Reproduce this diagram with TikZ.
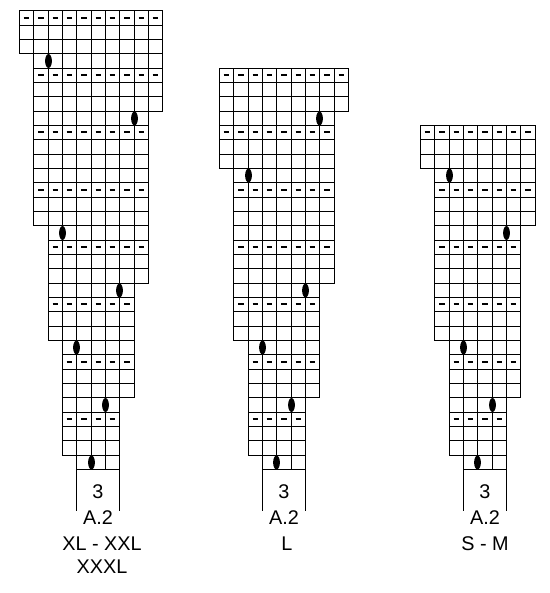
\documentclass[tikz,border=0pt]{standalone}
\usepackage{fontspec}
\setmainfont{Liberation Sans}
\usetikzlibrary{positioning}

\begin{document}
\begin{tikzpicture}[
    x=1bp, y=1bp,
    declare function={snap(\c)=round(14.33*\c); mid(\c)=(snap(\c)+snap(\c+1))/2; dashy(\c)=floor(mid(\c))+.5;},
    gridlines/.style={line width=1.7bp, line cap=rect},
    purl/.style={line width=2.6bp},
    legline/.style={line width=1.7bp},
    sizetext/.style={inner sep=0pt, align=center, font=\fontsize{19.9}{23}\selectfont}
]
\useasboundingbox (0,0) rectangle (550,593);

% Left chart: XL - XXL, XXXL
\begin{scope}[shift={(19.5,123.5)}]
% columns, each from its first row up to the top
\foreach \x/\lo in {0/29, 1/17, 2/9, 3/1, 4/0, 5/0, 6/0, 7/0, 8/5, 9/13, 10/25}
    \draw[gridlines] ({snap(\x)},{snap(\lo)}) -- ({snap(\x)},{snap(32)});
% rows
\foreach \a/\b/\lo/\hi in {4/7/0/1, 3/7/1/5, 3/8/5/9, 2/8/9/13, 2/9/13/17, 1/9/17/25, 1/10/25/29, 0/10/29/32} {
    \pgfmathtruncatemacro\last{\hi-1}
    \foreach \y in {\lo,...,\last}
        \draw[gridlines] ({snap(\a)},{snap(\y)}) -- ({snap(\b)},{snap(\y)});
}
\draw[gridlines] ({snap(0)},{snap(32)}) -- ({snap(10)},{snap(32)});
% purl rows
\foreach \r/\a/\e in {3/3/6, 7/3/7, 11/2/7, 15/2/8, 19/1/8, 23/1/8, 27/1/9, 31/0/9}
    \foreach \c in {\a,...,\e}
        \draw[purl] ({mid(\c)-2.9},{dashy(\r)}) -- ({mid(\c)+2.9},{dashy(\r)});
% yarn overs
\foreach \l/\r in {5/0, 6/4, 4/8, 7/12, 3/16, 8/24, 2/28}
    \fill ({snap(\l)},{mid(\r)}) ellipse [x radius=3.4, y radius=7];
\draw[legline] ({snap(4)},0) -- ({snap(4)},-42);
\draw[legline] ({snap(7)},0) -- ({snap(7)},-42);
\node[sizetext] (l-count) at ({(snap(4)+snap(7))/2},-22.6) {3};
\node[sizetext, below=11pt of l-count] (l-name) {A.2};
\node[sizetext, below=12pt of l-name, xshift=4pt] (l-size) {XL - XXL\\XXXL};
\end{scope}

% Middle chart: L
\begin{scope}[shift={(219.5,123.5)}]
\foreach \x/\lo in {0/21, 1/9, 2/1, 3/0, 4/0, 5/0, 6/0, 7/5, 8/13, 9/25}
    \draw[gridlines] ({snap(\x)},{snap(\lo)}) -- ({snap(\x)},{snap(28)});
\foreach \a/\b/\lo/\hi in {3/6/0/1, 2/6/1/5, 2/7/5/9, 1/7/9/13, 1/8/13/21, 0/8/21/25, 0/9/25/28} {
    \pgfmathtruncatemacro\last{\hi-1}
    \foreach \y in {\lo,...,\last}
        \draw[gridlines] ({snap(\a)},{snap(\y)}) -- ({snap(\b)},{snap(\y)});
}
\draw[gridlines] ({snap(0)},{snap(28)}) -- ({snap(9)},{snap(28)});
\foreach \r/\a/\e in {3/2/5, 7/2/6, 11/1/6, 15/1/7, 19/1/7, 23/0/7, 27/0/8}
    \foreach \c in {\a,...,\e}
        \draw[purl] ({mid(\c)-2.9},{dashy(\r)}) -- ({mid(\c)+2.9},{dashy(\r)});
\foreach \l/\r in {4/0, 5/4, 3/8, 6/12, 2/20, 7/24}
    \fill ({snap(\l)},{mid(\r)}) ellipse [x radius=3.4, y radius=7];
\draw[legline] ({snap(3)},0) -- ({snap(3)},-42);
\draw[legline] ({snap(6)},0) -- ({snap(6)},-42);
\node[sizetext] (m-count) at ({(snap(3)+snap(6))/2},-22.6) {3};
\node[sizetext, below=11pt of m-count] (m-name) {A.2};
\node[sizetext, below=12pt of m-name, xshift=3pt] (m-size) {L};
\end{scope}

% Right chart: S - M
\begin{scope}[shift={(420.5,123.5)}]
\foreach \x/\lo in {0/21, 1/9, 2/1, 3/0, 4/0, 5/0, 6/0, 7/5, 8/17}
    \draw[gridlines] ({snap(\x)},{snap(\lo)}) -- ({snap(\x)},{snap(24)});
\foreach \a/\b/\lo/\hi in {3/6/0/1, 2/6/1/5, 2/7/5/9, 1/7/9/17, 1/8/17/21, 0/8/21/24} {
    \pgfmathtruncatemacro\last{\hi-1}
    \foreach \y in {\lo,...,\last}
        \draw[gridlines] ({snap(\a)},{snap(\y)}) -- ({snap(\b)},{snap(\y)});
}
\draw[gridlines] ({snap(0)},{snap(24)}) -- ({snap(8)},{snap(24)});
\foreach \r/\a/\e in {3/2/5, 7/2/6, 11/1/6, 15/1/6, 19/1/7, 23/0/7}
    \foreach \c in {\a,...,\e}
        \draw[purl] ({mid(\c)-2.9},{dashy(\r)}) -- ({mid(\c)+2.9},{dashy(\r)});
\foreach \l/\r in {4/0, 5/4, 3/8, 6/16, 2/20}
    \fill ({snap(\l)},{mid(\r)}) ellipse [x radius=3.4, y radius=7];
\draw[legline] ({snap(3)},0) -- ({snap(3)},-42);
\draw[legline] ({snap(6)},0) -- ({snap(6)},-42);
\node[sizetext] (r-count) at ({(snap(3)+snap(6))/2},-22.6) {3};
\node[sizetext, below=11pt of r-count] (r-name) {A.2};
\node[sizetext, below=12pt of r-name] (r-size) {S - M};
\end{scope}

\end{tikzpicture}
\end{document}
